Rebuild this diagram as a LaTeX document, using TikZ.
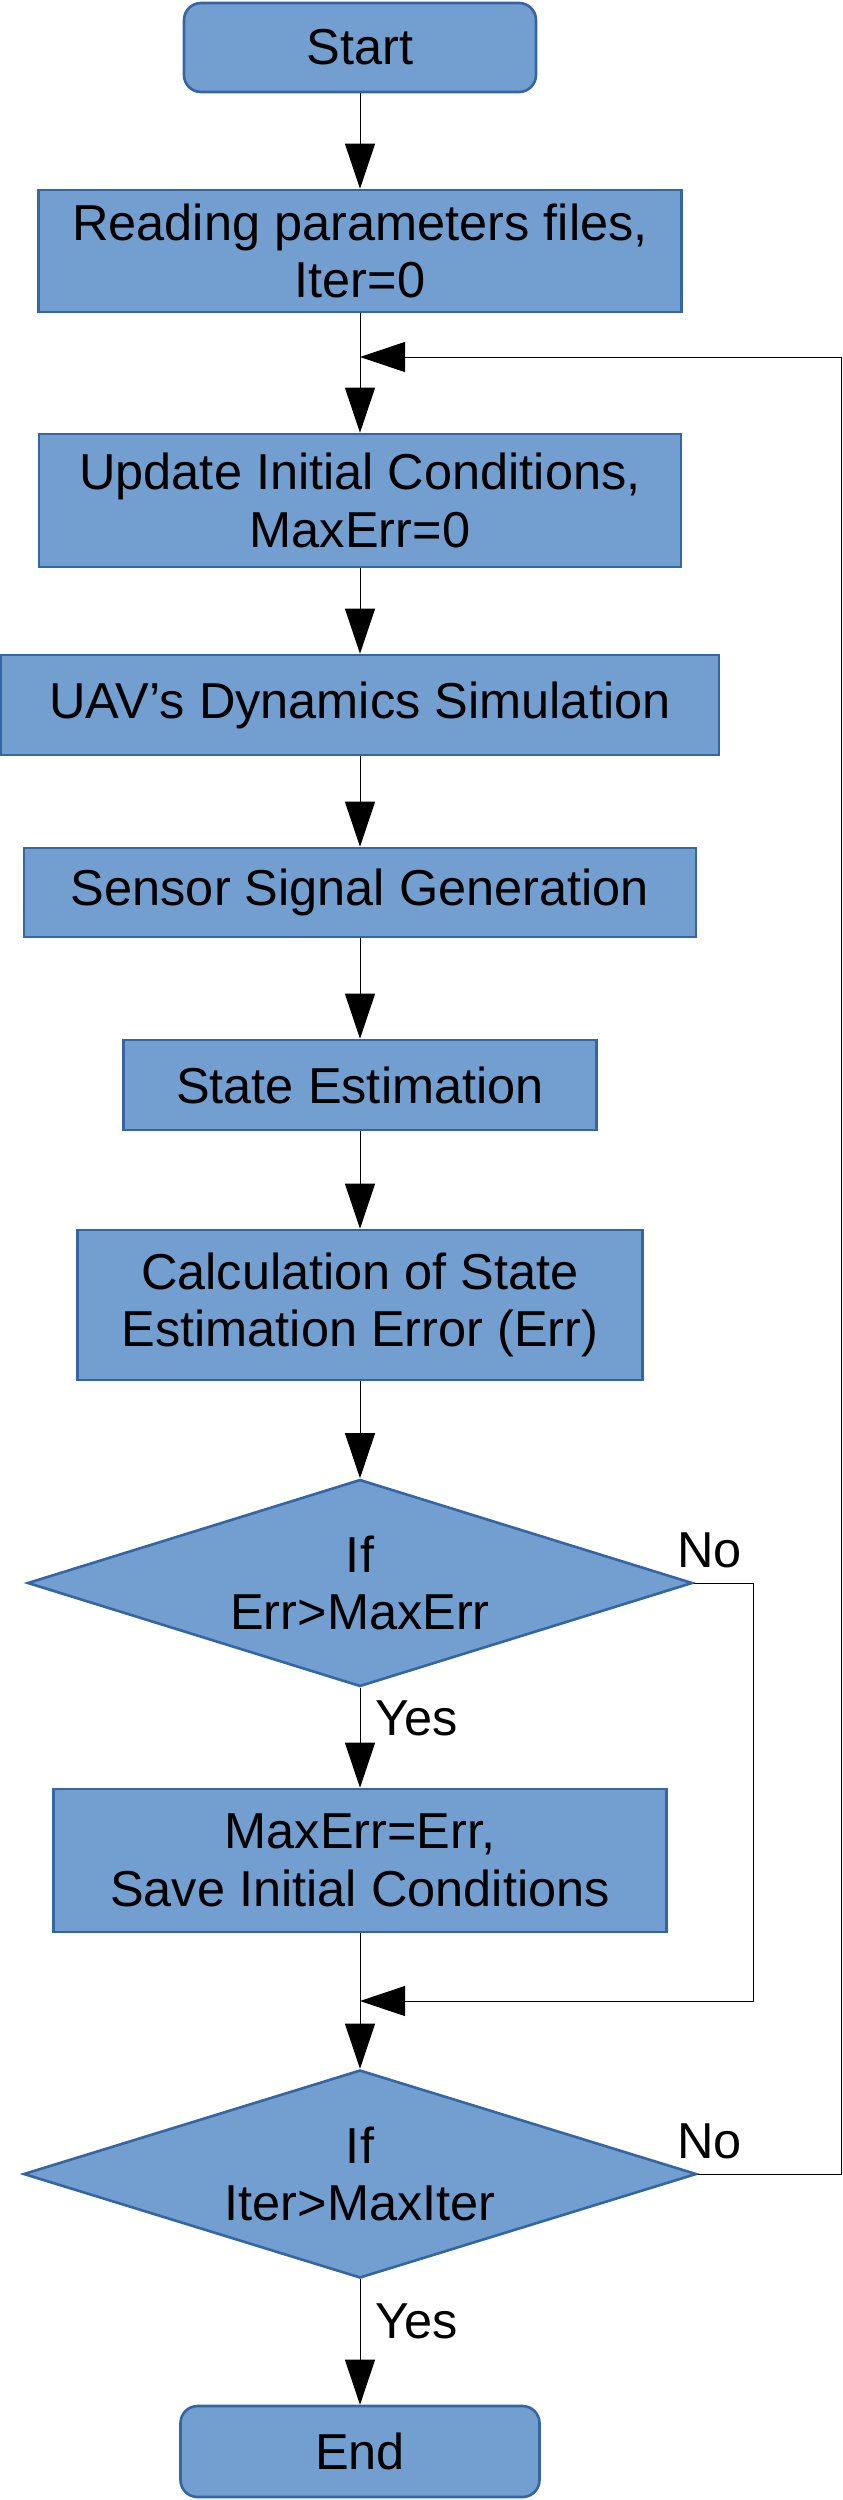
\documentclass[tikz,border=0pt]{standalone}
\usepackage{fontspec}
\setmainfont{Liberation Sans}
\usetikzlibrary{arrows.meta,shapes.geometric}
\definecolor{boxfill}{HTML}{729FCF}
\definecolor{boxline}{HTML}{3465A4}
\begin{document}
\begin{tikzpicture}[x=1pt,y=-1pt,
  txt/.style={font=\fontsize{50.5}{57.5}\selectfont},
  proc/.style={rectangle, draw=boxline, fill=boxfill, line width=2.6pt, align=center, inner sep=0pt, txt},
  term/.style={proc, rounded corners=17pt},
  decide/.style={diamond, draw=boxline, fill=boxfill, line width=2.6pt, align=center, inner sep=0pt, shape aspect=3.2, txt},
  conn/.style={line width=1pt, -{Triangle[length=45pt,width=30pt]}},
  lbl/.style={txt, inner sep=0pt, anchor=base west}
]
\useasboundingbox (0,0) rectangle (843,2500);

\node[term, minimum width=352pt, minimum height=89pt] (start) at (360,47.5) {Start};
\node[proc, minimum width=643pt, minimum height=122pt] (read) at (360,251) {Reading parameters files,\\Iter=0};
\node[proc, minimum width=642pt, minimum height=133pt] (upd) at (360,500.5) {Update Initial Conditions,\\MaxErr=0};
\node[proc, minimum width=718pt, minimum height=100pt] (uav) at (360,705) {UAV’s Dynamics Simulation};
\node[proc, minimum width=672pt, minimum height=89pt] (sens) at (360,892.5) {Sensor Signal Generation};
\node[proc, minimum width=473pt, minimum height=90pt] (est) at (360,1085) {State Estimation};
\node[proc, minimum width=565pt, minimum height=150pt] (calc) at (360,1305) {Calculation of State\\Estimation Error (Err)};
\node[decide, minimum width=665pt, minimum height=207pt] (d1) at (360,1583) {If\\Err>MaxErr};
\node[proc, minimum width=613pt, minimum height=143pt] (save) at (360,1860.5) {MaxErr=Err,\\Save Initial Conditions};
\node[decide, minimum width=673pt, minimum height=208pt] (d2) at (360,2174) {If\\Iter>MaxIter};
\node[term, minimum width=359pt, minimum height=91pt] (end) at (360,2451.5) {End};

\node[lbl] (no1) at (677,1567) {No};
\node[lbl] (yes1) at (375,1735) {Yes};
\node[lbl] (no2) at (677,2158) {No};
\node[lbl] (yes2) at (375,2338) {Yes};

\coordinate (m1) at (360,357);
\coordinate (m2) at (360,2001);
\coordinate (b1) at (753,2001);
\coordinate (b2) at (841,357);

\draw[conn] (start.south) -- (read.north);
\draw[conn] (read.south) -- (upd.north);
\draw[conn] (upd.south) -- (uav.north);
\draw[conn] (uav.south) -- (sens.north);
\draw[conn] (sens.south) -- (est.north);
\draw[conn] (est.south) -- (calc.north);
\draw[conn] (calc.south) -- (d1.north);
\draw[conn] (d1.south) -- (save.north);
\draw[conn] (save.south) -- (d2.north);
\draw[conn] (d2.south) -- (end.north);
\draw[conn] (d1.east) -| (b1) -- (m2);
\draw[conn] (d2.east) -| (b2) -- (m1);
\end{tikzpicture}
\end{document}
